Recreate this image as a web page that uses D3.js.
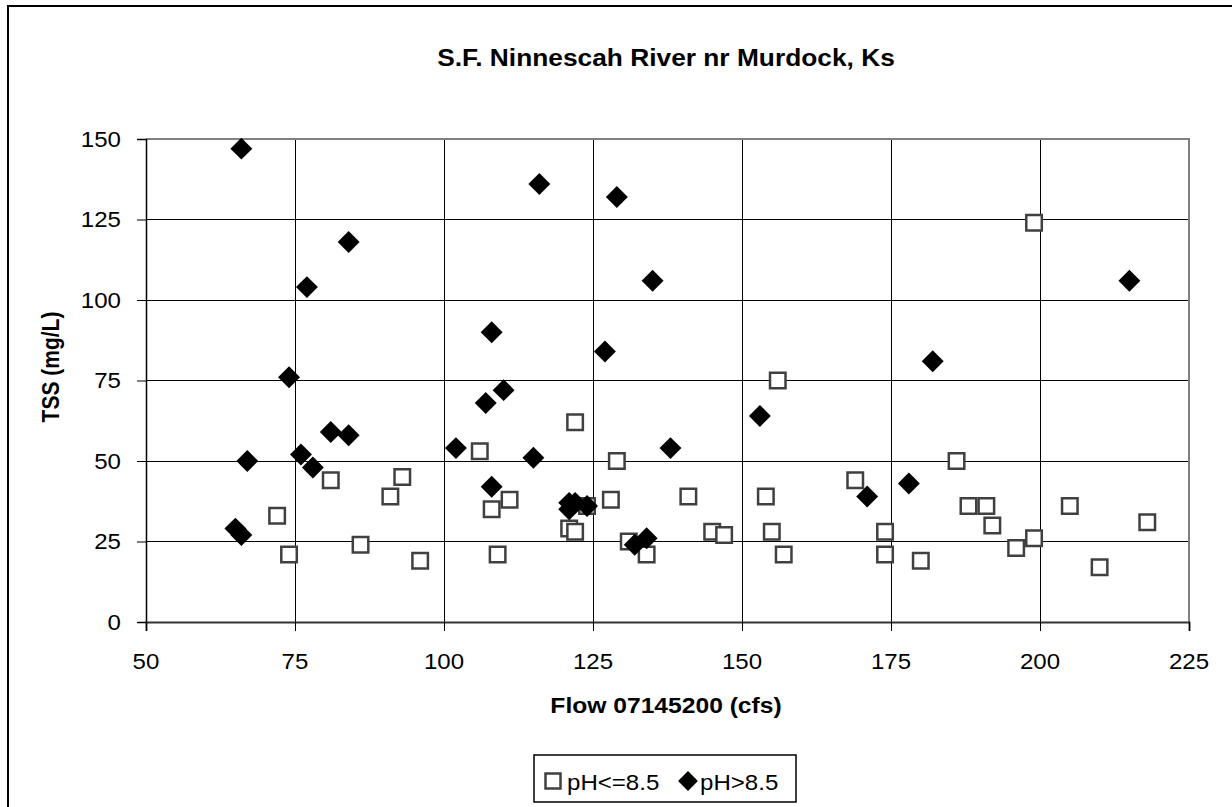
<!DOCTYPE html>
<html lang="en">
<head>
<meta charset="UTF-8">
<title>S.F. Ninnescah River nr Murdock, Ks</title>
<style>
  body { margin: 0; background: #fff; }
  text { font-family: "Liberation Sans", Arial, sans-serif; fill: #000; }
</style>
</head>
<body>
<script src="https://d3js.org/d3.v7.min.js"></script>
<script>
// data
const lowPhFlow = [72, 74, 81, 86, 91, 93, 96, 106, 108, 109, 111, 121, 122, 122, 124, 128, 129, 131, 134, 141,
                   145, 147, 154, 155, 156, 157, 169, 174, 174, 180, 186, 188, 191, 192, 196, 199, 199, 205, 210, 218];
const lowPhTss  = [33, 21, 44, 24, 39, 45, 19, 53, 35, 21, 38, 29, 28, 62, 36, 38, 50, 25, 21, 39,
                   28, 27, 39, 28, 75, 21, 44, 28, 21, 19, 50, 36, 36, 30, 23, 26, 124, 36, 17, 31];
const highPhFlow = [65, 66, 66, 67, 74, 76, 77, 78, 81, 84, 84, 102, 107, 108, 108, 110, 115, 116, 121, 121, 122, 124,
                    127, 129, 132, 134, 135, 138, 153, 171, 178, 182, 215];
const highPhTss  = [29, 147, 27, 50, 76, 52, 104, 48, 59, 118, 58, 54, 68, 90, 42, 72, 51, 136, 35, 37, 37, 36,
                    84, 132, 24, 26, 106, 54, 64, 39, 43, 81, 106];
const xTicks = [50, 75, 100, 125, 150, 175, 200, 225];
const yTicks = [0, 25, 50, 75, 100, 125, 150];
const seriesNames = ["pH<=8.5", "pH>8.5"];

const width = 1232, height = 807;
const plot = {left: 146, right: 1189, top: 139, bottom: 622};
const SX = 1.12; // text in the reference is a bit wider than it is tall

const x = d3.scaleLinear().domain([50, 225]).range([plot.left, plot.right]);
const y = d3.scaleLinear().domain([0, 150]).range([plot.bottom, plot.top]);

const svg = d3.create("svg")
  .attr("width", width)
  .attr("height", height)
  .attr("viewBox", [0, 0, width, height]);

svg.append("rect").attr("width", width).attr("height", height).attr("fill", "#fff");

// outer chart frame (only left and top show in the picture)
svg.append("path")
  .attr("d", `M8,${height}V6H${width}`)
  .attr("fill", "none")
  .attr("stroke", "#000")
  .attr("stroke-width", 2);

function label(str, px, py, opts = {}) {
  return svg.append("text")
    .attr("transform", `translate(${px},${py}) scale(${SX},1)` + (opts.rotate ? ` rotate(${opts.rotate})` : ""))
    .attr("text-anchor", opts.anchor || "middle")
    .attr("font-size", opts.size || 20)
    .attr("font-weight", opts.bold ? "bold" : null)
    .attr("dominant-baseline", opts.baseline || null)
    .text(str);
}

// gridlines
svg.append("g").selectAll("line")
  .data(xTicks.slice(1, -1))
  .join("line")
  .attr("x1", d => x(d)).attr("x2", d => x(d))
  .attr("y1", plot.top).attr("y2", plot.bottom)
  .attr("stroke", "#000").attr("stroke-width", 1)
  .attr("shape-rendering", "crispEdges");

svg.append("g").selectAll("line")
  .data(yTicks.slice(1))
  .join("line")
  .attr("x1", plot.left).attr("x2", plot.right)
  .attr("y1", d => y(d)).attr("y2", d => y(d))
  .attr("stroke", "#000").attr("stroke-width", 1)
  .attr("shape-rendering", "crispEdges");

// plot border top/right in grey
svg.append("path")
  .attr("d", `M${plot.left},${plot.top}H${plot.right}V${plot.bottom}`)
  .attr("fill", "none")
  .attr("stroke", "#808080")
  .attr("stroke-width", 2);

// axes
const xAxis = d3.axisBottom(x).tickValues(xTicks).tickSize(9).tickFormat("");
const yAxis = d3.axisLeft(y).tickValues(yTicks).tickSize(9).tickFormat("");

svg.append("g")
  .attr("transform", `translate(0,${plot.bottom})`)
  .call(xAxis)
  .call(g => g.select(".domain").attr("stroke", "#333").attr("stroke-width", 2))
  .call(g => g.selectAll(".tick line").attr("stroke", "#000"));

svg.append("g")
  .attr("transform", `translate(${plot.left},0)`)
  .call(yAxis)
  .call(g => g.select(".domain").attr("stroke", "#000").attr("stroke-width", 1.5))
  .call(g => g.selectAll(".tick line").attr("stroke", "#000"));

xTicks.forEach(t => label(t, x(t), 669, {size: 21.5}));
yTicks.forEach(t => label(t, 121, y(t) + 7.5, {size: 21.5, anchor: "end"}));

// titles
label("S.F. Ninnescah River nr Murdock, Ks", 666, 66, {size: 23.5, bold: true});
label("Flow 07145200 (cfs)", 666, 713, {size: 22, bold: true});
label("TSS (mg/L)", 51, 367, {size: 21, bold: true, rotate: -90, baseline: "central"});

// markers
const squareSym = d3.symbol().type(d3.symbolSquare).size(15.5 * 15.5);
const diamondSym = d3.symbol().type(d3.symbolSquare).size(15.5 * 15.5);

svg.append("g").selectAll("path")
  .data(d3.range(lowPhFlow.length))
  .join("path")
  .attr("d", squareSym)
  .attr("transform", i => `translate(${x(lowPhFlow[i])},${y(lowPhTss[i])})`)
  .attr("fill", "#fff")
  .attr("stroke", "#404040")
  .attr("stroke-width", 2.5);

svg.append("g").selectAll("path")
  .data(d3.range(highPhFlow.length))
  .join("path")
  .attr("d", diamondSym)
  .attr("transform", i => `translate(${x(highPhFlow[i])},${y(highPhTss[i])}) rotate(45)`)
  .attr("fill", "#000");

// legend
const legend = svg.append("g");
legend.append("rect")
  .attr("x", 534).attr("y", 755).attr("width", 262).attr("height", 47)
  .attr("fill", "#fff").attr("stroke", "#000").attr("stroke-width", 1.5);
legend.append("path")
  .attr("d", d3.symbol().type(d3.symbolSquare).size(15 * 15))
  .attr("transform", "translate(553,781)")
  .attr("fill", "#fff").attr("stroke", "#404040").attr("stroke-width", 2.5);
legend.append("path")
  .attr("d", d3.symbol().type(d3.symbolSquare).size(14 * 14))
  .attr("transform", "translate(688,781) rotate(45)")
  .attr("fill", "#000");
label(seriesNames[0], 567, 790, {size: 21.5, anchor: "start"});
label(seriesNames[1], 700, 790, {size: 21.5, anchor: "start"});

document.body.appendChild(svg.node());
</script>
</body>
</html>
